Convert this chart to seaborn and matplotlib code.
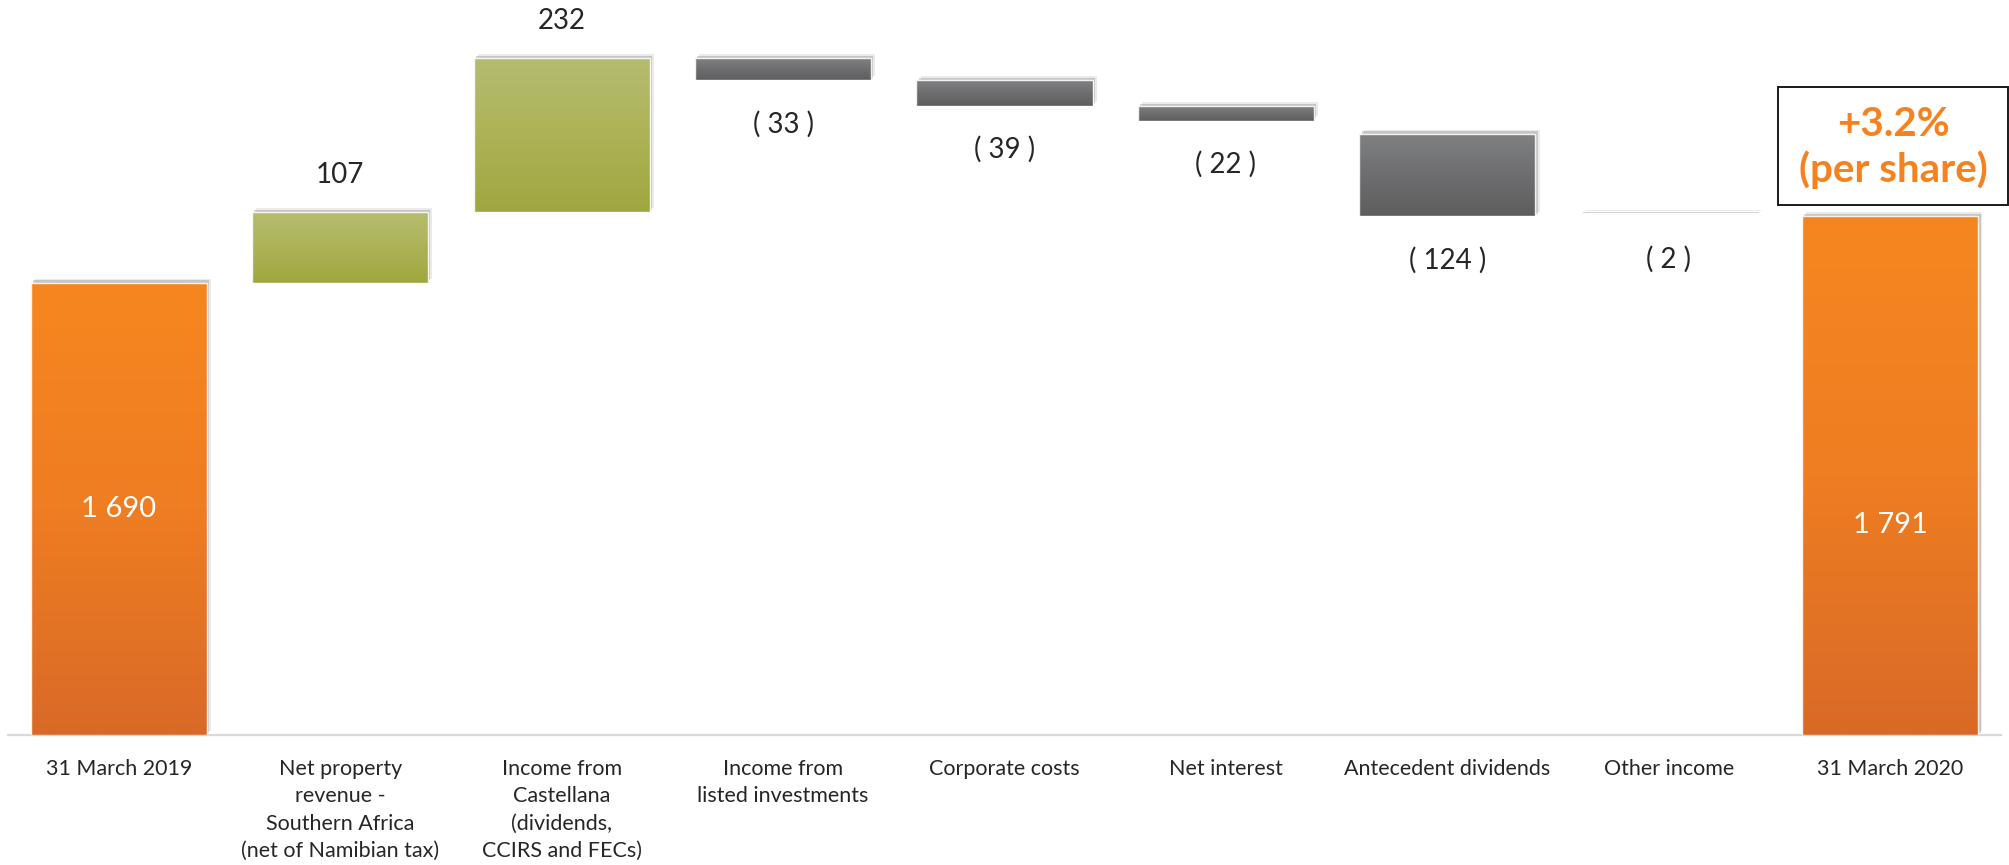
import numpy as np
import pandas as pd
import matplotlib
matplotlib.use("Agg")
import matplotlib.pyplot as plt
import seaborn as sns
from matplotlib import patheffects as pe
from matplotlib.colors import LinearSegmentedColormap
from matplotlib.patches import Rectangle

# ---------------- data ----------------
categories = [
    "31 March 2019",
    "Net property\nrevenue -\nSouthern Africa\n(net of Namibian tax)",
    "Income from\nCastellana\n(dividends,\nCCIRS and FECs)",
    "Income from\nlisted investments",
    "Corporate costs",
    "Net interest",
    "Antecedent dividends",
    "Other income",
    "31 March 2020",
]
values = [1690, 107, 232, -33, -39, -22, -124, -2, 1791]
kinds = ["total", "up", "up", "down", "down", "down", "down", "other", "total"]
# level each step starts from, as drawn in the reference (totals start at the axis floor)
step_start = [None, 1690, 1797, 2029, 1996, 1957, 1915, 1794, None]
value_labels = ["1 690", "107", "232", "( 33 )", "( 39 )", "( 22 )", "( 124 )", "( 2 )", "1 791"]
note_lines = ["+3.2%", "(per share)"]

# ---------------- style ----------------
sns.set_style("white")
plt.rcParams["font.family"] = ["Lato", "DejaVu Sans"]

W, H, DPI = 2009, 865, 100
Y_FLOOR, Y_TOP = 1008, 2117
TEXT = "#262626"
ORANGE_TXT = "#F5821F"
grad_colors = {
    "total": ["#D96A27", "#EF7D22", "#F6871F"],
    "up": ["#9FA740", "#ACB356", "#B6BC70"],
    "down": ["#5E5E5F", "#6E6E70", "#808183"],
    "other": ["#D6D6D6", "#DCDCDC", "#E2E2E2"],
}

bottoms, tops = [], []
for v, k, s in zip(values, kinds, step_start):
    if k == "total":
        bottoms.append(Y_FLOOR)
        tops.append(v)
    else:
        lo, hi = sorted([s, s + v])
        bottoms.append(lo)
        tops.append(hi)

df = pd.DataFrame({"category": categories, "top": tops, "bottom": bottoms, "kind": kinds})

fig = plt.figure(figsize=(W / DPI, H / DPI), dpi=DPI)
ax = fig.add_axes([8 / W, 130 / H, 1993 / W, 735 / H])

sns.barplot(data=df, x="category", y="top", hue="category", legend=False,
            palette=[grad_colors[k][1] for k in kinds], width=0.795,
            errorbar=None, ax=ax, zorder=2)

grad = np.linspace(0, 1, 256).reshape(-1, 1)
bars = [p for p in ax.patches if isinstance(p, Rectangle)]
for patch, b, t, k in zip(bars, bottoms, tops, kinds):
    patch.set_y(b)
    patch.set_height(t - b)
    patch.set_edgecolor("none")
    patch.set_path_effects([
        pe.SimplePatchShadow(offset=(3.0, 3.0), shadow_rgbFace="#9a9a9a", alpha=0.2),
        pe.SimplePatchShadow(offset=(1.6, 1.8), shadow_rgbFace="#8a8a8a", alpha=0.38),
        pe.Normal(),
    ])
    x0 = patch.get_x()
    x1 = x0 + patch.get_width()
    cmap = LinearSegmentedColormap.from_list("g_" + k, grad_colors[k])
    im = ax.imshow(grad, extent=(x0, x1, b, t), origin="lower", cmap=cmap,
                   aspect="auto", zorder=3, interpolation="bilinear")
    im.set_clip_path(patch)
    ax.add_patch(Rectangle((x0, b), x1 - x0, t - b, facecolor="none",
                           edgecolor="white", lw=1.0, zorder=4, alpha=0.9))

ax.set_xlim(-0.5, len(categories) - 0.5)
ax.set_ylim(Y_FLOOR, Y_TOP)

# value labels
for i, (lab, b, t, k) in enumerate(zip(value_labels, bottoms, tops, kinds)):
    if k == "total":
        frac = 0.5 if i == 0 else 0.405
        ax.text(i, b + frac * (t - b), lab, ha="center", va="center",
                color="white", fontsize=21, zorder=6)
    elif k == "up":
        ax.annotate(lab, xy=(i, t), xytext=(0, 27), textcoords="offset points",
                    ha="center", va="center", color=TEXT, fontsize=20, zorder=6)
    else:
        ax.annotate(lab, xy=(i, b), xytext=(0, -31.5), textcoords="offset points",
                    ha="center", va="center", color=TEXT, fontsize=20, zorder=6)

# axes styling
for side in ["top", "right", "left"]:
    ax.spines[side].set_visible(False)
ax.spines["bottom"].set_color("#D9D9D9")
ax.spines["bottom"].set_linewidth(1.6)
ax.set_yticks([])
ax.set_xlabel("")
ax.set_ylabel("")
ax.tick_params(axis="x", length=0, pad=17)
for lbl in ax.get_xticklabels():
    lbl.set_fontsize(15.5)
    lbl.set_color(TEXT)
    lbl.set_linespacing(1.47)
    lbl.set_horizontalalignment("center")
    lbl.set_verticalalignment("top")

# boxed note
fig.patches.append(Rectangle((1778 / W, 1 - 205 / H), 230 / W, 118 / H,
                             transform=fig.transFigure, facecolor="white",
                             edgecolor="#1a1a1a", lw=1.4, zorder=5))
fig.text(1893 / W, 1 - 124 / H, note_lines[0], ha="center", va="center",
         color=ORANGE_TXT, fontsize=29, fontweight="bold", zorder=6)
fig.text(1893 / W, 1 - 170 / H, note_lines[1], ha="center", va="center",
         color=ORANGE_TXT, fontsize=29, fontweight="bold", zorder=6)

fig.savefig("out.png", dpi=DPI, facecolor="white")
